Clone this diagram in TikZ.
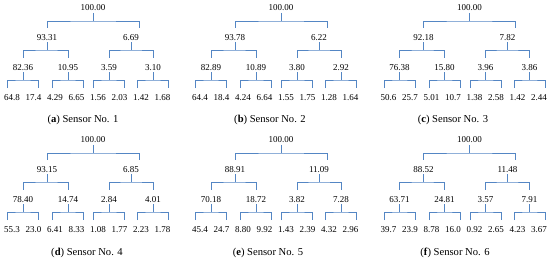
\documentclass[tikz,border=0pt]{standalone}
\usepackage{fontspec}
\setmainfont{Liberation Serif}
\definecolor{linec}{RGB}{84,134,196}
\tikzset{
  lab/.style={font=\fontsize{9}{10}\selectfont, inner sep=0pt, text height=6.2pt, text depth=0pt, anchor=center},
  conn/.style={draw=linec, line width=0.8pt},
  captext/.style={font=\fontsize{10.6}{12}\selectfont, inner sep=0pt, anchor=center},
}
\newcommand\sensortree[8]{%
  \node[lab] (#1-root) at ({#2},{#3+7.5}) {#4};
  \node[lab] (#1-l1-1) at ({#2-46},{#3+37}) {#5};
  \node[lab] (#1-l1-2) at ({#2+38},{#3+37}) {#6};
  \coordinate (#1-b0) at ({#2},{#3+21});
  \coordinate (#1-b0r) at ({#2+46},{#3+28});
  \draw[conn] ([yshift=-2pt]#1-root.south) -- (#1-b0);
  \draw[conn] ([yshift=6pt]#1-l1-1.north) |- (#1-b0) -| (#1-b0r);
  \foreach \v [count=\i] in {#7} {
    \pgfmathsetmacro\dx{{-70,-25,16,60}[\i-1]}
    \node[lab] (#1-l2-\i) at ({#2+\dx},{#3+67}) {\v};
    \coordinate (#1-b2-\i) at ({#2+\dx},{#3+80});
    \coordinate (#1-d-\i-1) at ({#2+\dx-15.5},{#3+88});
    \coordinate (#1-d-\i-2) at ({#2+\dx+15.5},{#3+88});
    \draw[conn] ([yshift=-2pt]#1-l2-\i.south) -- (#1-b2-\i);
    \draw[conn] (#1-d-\i-1) |- (#1-b2-\i) -| (#1-d-\i-2);
  }
  \coordinate (#1-b1-1) at ({#2-46},{#3+50});
  \coordinate (#1-b1-2) at ({#2+38},{#3+50});
  \draw[conn] ([yshift=-2pt]#1-l1-1.south) -- (#1-b1-1);
  \draw[conn] ([yshift=-2pt]#1-l1-2.south) -- (#1-b1-2);
  \draw[conn] ([yshift=6pt]#1-l2-1.north) |- (#1-b1-1) -| ([yshift=6pt]#1-l2-2.north);
  \draw[conn] ([yshift=6pt]#1-l2-3.north) |- (#1-b1-2) -| ([yshift=6pt]#1-l2-4.north);
  \foreach \v [count=\i] in {#8} {
    \pgfmathsetmacro\lx{-81+21.5*(\i-1)}
    \node[lab] (#1-lf-\i) at ({#2+\lx},{#3+97}) {\v};
  }
}
\begin{document}
\begin{tikzpicture}[x=1pt,y=-1pt]
\useasboundingbox (0,0) rectangle (550,258);
\sensortree{a}{93}{0}{100.00}{93.31}{6.69}{82.36,10.95,3.59,3.10}{64.8,17.4,4.29,6.65,1.56,2.03,1.42,1.68}
\sensortree{b}{281}{0}{100.00}{93.78}{6.22}{82.89,10.89,3.80,2.92}{64.4,18.4,4.24,6.64,1.55,1.75,1.28,1.64}
\sensortree{c}{469.5}{0}{100.00}{92.18}{7.82}{76.38,15.80,3.96,3.86}{50.6,25.7,5.01,10.7,1.38,2.58,1.42,2.44}
\sensortree{d}{93}{132}{100.00}{93.15}{6.85}{78.40,14.74,2.84,4.01}{55.3,23.0,6.41,8.33,1.08,1.77,2.23,1.78}
\sensortree{e}{281}{132}{100.00}{88.91}{11.09}{70.18,18.72,3.82,7.28}{45.4,24.7,8.80,9.92,1.43,2.39,4.32,2.96}
\sensortree{f}{469.5}{132}{100.00}{88.52}{11.48}{63.71,24.81,3.57,7.91}{39.7,23.9,8.78,16.0,0.92,2.65,4.23,3.67}
\node[captext] (capa) at (83,119.5) {(\textbf{a}) Sensor No. 1};
\node[captext] (capb) at (270,119.5) {(\textbf{b}) Sensor No. 2};
\node[captext] (capc) at (453,119.5) {(\textbf{c}) Sensor No. 3};
\node[captext] (capd) at (87,253) {(\textbf{d}) Sensor No. 4};
\node[captext] (cape) at (268,253) {(\textbf{e}) Sensor No. 5};
\node[captext] (capf) at (455,253) {(\textbf{f}) Sensor No. 6};
\end{tikzpicture}
\end{document}
